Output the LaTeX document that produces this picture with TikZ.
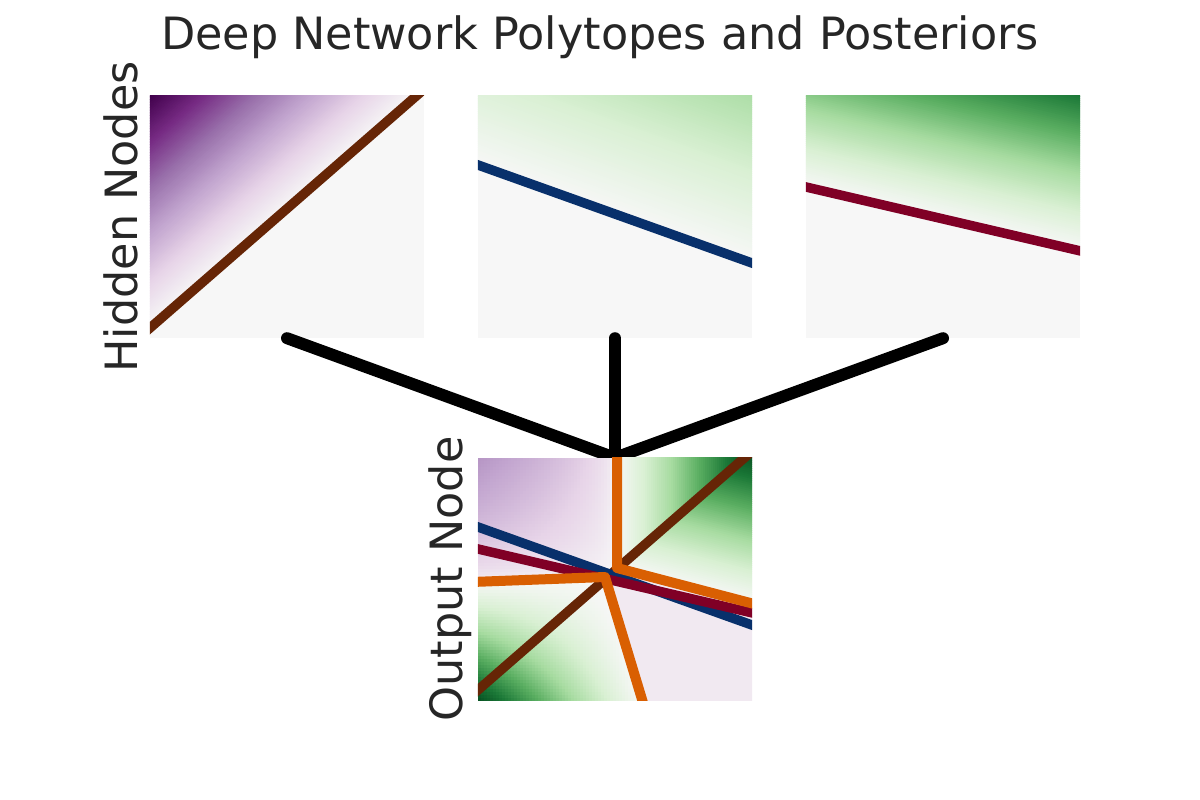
\documentclass[tikz,border=0pt]{standalone}
\usepackage{fontspec}
\setmainfont{DejaVu Sans}
\definecolor{P0}{HTML}{F7F7F7}
\definecolor{P1}{HTML}{E7D4E8}
\definecolor{P2}{HTML}{C2A5CF}
\definecolor{P3}{HTML}{9970AB}
\definecolor{P4}{HTML}{762A83}
\definecolor{P5}{HTML}{40004B}
\definecolor{G0}{HTML}{F7F7F7}
\definecolor{G1}{HTML}{D9F0D3}
\definecolor{G2}{HTML}{A6DBA0}
\definecolor{G3}{HTML}{5AAE61}
\definecolor{G4}{HTML}{1B7837}
\definecolor{G5}{HTML}{00441B}
\definecolor{BrownL}{HTML}{662506}
\definecolor{BlueL}{HTML}{08306B}
\definecolor{RedL}{HTML}{800026}
\definecolor{OrangeL}{HTML}{D95F02}
\definecolor{TextC}{HTML}{262626}

% colour of the diverging map for a value in [-1,1]
\newcommand\setcm[1]{%
  \pgfmathsetmacro\cmv{min(1,abs(#1))*5}%
  \pgfmathtruncatemacro\cmk{min(floor(\cmv),4)}%
  \pgfmathtruncatemacro\cmf{round((\cmv-\cmk)*100)}%
  \pgfmathtruncatemacro\cmkk{\cmk+1}%
  \ifdim #1pt<0pt\def\cmside{P}\else\def\cmside{G}\fi
  \edef\cmexpr{\cmside\cmkk!\cmf!\cmside\cmk}%
  \colorlet{cmc}{\cmexpr}%
}
% parallel strips of a linear field (in a scope whose y axis is the normal)
\newcommand\strips[2]{%
  \foreach \d in {0,2,...,#1}{%
    \pgfmathsetmacro\tv{#2*(\d+1)}%
    \setcm{\tv}%
    \fill[cmc] (-500,\d) -- (500,\d) -- (500,\d+2.6) -- (-500,\d+2.6) -- cycle;
  }%
}
% value of the output posterior at local pixel (#1,#2), left part
\newcommand\outfield[2]{%
  \pgfmathsetmacro\oL{124-0.0394*#1}%
  \pgfmathsetmacro\oD{127+0.301*(#2-119)}%
  \pgfmathtruncatemacro\otop{(#2<\oL)}%
  \ifnum\otop=1
    \pgfmathsetmacro\tv{-0.46*sqrt(max(0,min(1,(136-#1)/136))*max(0,min(1,(\oL-#2)/\oL)))}%
  \else
    \pgfmathsetmacro\tv{0.95*max(0,min(1,(\oD-#1)/\oD))*max(0,min(1,(#2-\oL)/(242-\oL)))}%
  \fi
}

\tikzset{
  panel/.style={rectangle, inner sep=0pt, minimum width=274pt, minimum height=242pt, draw=none},
  hline/.style={line width=9.5pt, line cap=butt},
  conn/.style={line width=12pt, line cap=round, black},
  oline/.style={line width=10pt, OrangeL, line join=round, line cap=butt},
  lbl/.style={text=TextC, font=\fontsize{44.5}{52}\selectfont, inner sep=0pt},
  basisA/.style={x={(0.754pt,0.657pt)}, y={(-0.657pt,0.754pt)}},
  basisB/.style={x={(0.942pt,-0.337pt)}, y={(0.337pt,0.942pt)}},
  basisC/.style={x={(0.974pt,-0.227pt)}, y={(0.227pt,0.974pt)}},
  basisR/.style={x={(0.968pt,-0.251pt)}, y={(0.251pt,0.968pt)}},
}

\begin{document}
\begin{tikzpicture}[x=1pt,y=-1pt]
\useasboundingbox (0,0) rectangle (1200,800);
\fill[white] (0,0) rectangle (1200,800);

% title and axis labels
\node[lbl, anchor=base] (title) at (600,50) {Deep Network Polytopes and Posteriors};
\node[lbl, anchor=base, rotate=90] (hlab) at (137,217) {Hidden Nodes};
\node[lbl, anchor=base, rotate=90] (olab) at (462,579) {Output Node};

% panels
\node[panel, fill=P0] (p1) at (287,217) {};
\node[panel, fill=P0] (p2) at (615,217) {};
\node[panel, fill=P0] (p3) at (943,217) {};
\node[panel] (out) at (615,579) {};

% hidden node 1
\begin{scope}
  \clip (p1.south west) rectangle (p1.north east);
  \begin{scope}[shift={(150,328)}, basisA]
    \strips{180}{-0.00571}
    \draw[hline, BrownL] (-30,0) -- (400,0);
  \end{scope}
\end{scope}
% hidden node 2
\begin{scope}
  \clip (p2.south west) rectangle (p2.north east);
  \begin{scope}[shift={(478,165)}, basisB]
    \strips{166}{0.002357}
    \draw[hline, BlueL] (-30,0) -- (400,0);
  \end{scope}
\end{scope}
% hidden node 3
\begin{scope}
  \clip (p3.south west) rectangle (p3.north east);
  \begin{scope}[shift={(806,187)}, basisC]
    \strips{160}{0.0053}
    \draw[hline, RedL] (-30,0) -- (400,0);
  \end{scope}
\end{scope}

% connectors
\draw[conn] (p1.south) -- (out.north);
\draw[conn] (p2.south) -- (out.north);
\draw[conn] (p3.south) -- (out.north);

% output node
\begin{scope}
  \clip (out.south west) rectangle (out.north east);
  % left part: two curved fields on a fine grid
  \foreach \i in {0,...,56}{%
    \foreach \j in {0,...,80}{%
      \pgfmathsetmacro\lx{3*\i+1.5}%
      \pgfmathsetmacro\ly{3*\j+1.5}%
      \outfield{\lx}{\ly}%
      \setcm{\tv}%
      \fill[cmc] (478+3*\i,458+3*\j) rectangle ++(3.5,3.5);
    }%
  }
  % upper right part
  \begin{scope}
    \clip (617,452) -- (760,452) -- (760,605) -- (617,568) -- cycle;
    \begin{scope}[shift={(617,568)}, basisR]
      \strips{150}{0.0066}
    \end{scope}
    \clip (600,452) -- (745,452) -- (600,580) -- cycle;
    \foreach \k in {0,2,...,130}{%
      \pgfmathsetmacro\tv{0.0073*(\k+1)}%
      \setcm{\tv}%
      \fill[cmc] (617+\k,452) rectangle (619.6+\k,600);
    }
  \end{scope}
  % lower right part
  \setcm{-0.08}
  \fill[cmc] (605,577) -- (617,568) -- (760,605) -- (760,705) -- (644,705) -- cycle;
  \begin{scope}[shift={(478,690)}, basisA]
    \draw[hline, BrownL] (-30,0) -- (400,0);
  \end{scope}
  \begin{scope}[shift={(478,527)}, basisB]
    \draw[hline, BlueL] (-30,0) -- (400,0);
  \end{scope}
  \begin{scope}[shift={(478,549)}, basisC]
    \draw[hline, RedL] (-30,0) -- (400,0);
  \end{scope}
  \draw[oline] (617,452) -- (617,568) -- (758,605);
  \draw[oline] (472,582) -- (605,577) -- (644,706);
\end{scope}
\end{tikzpicture}
\end{document}
